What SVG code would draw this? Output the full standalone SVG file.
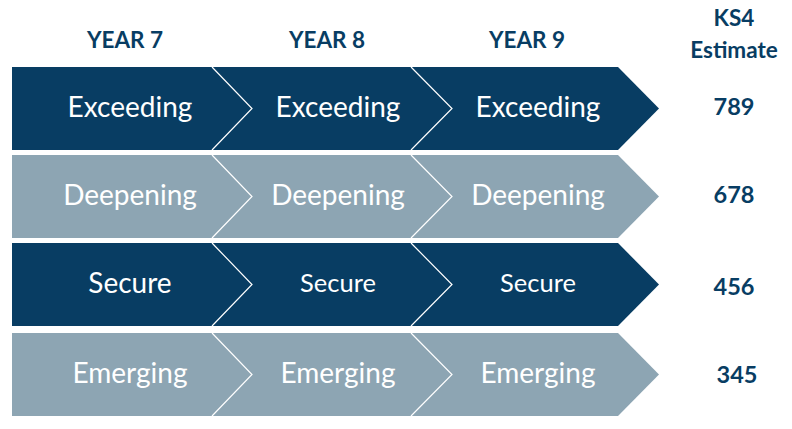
<svg xmlns="http://www.w3.org/2000/svg" width="792" height="429" viewBox="0 0 792 429">
<style>
.dark{fill:#083d63}
.light{fill:#8da5b3}
.sep{fill:none;stroke:#ffffff;stroke-width:1.2}
.lbl{font-family:Lato,"Liberation Sans",sans-serif;fill:#ffffff;text-anchor:middle;dominant-baseline:central;font-size:28px}
.sm{font-size:25.5px}
.hd{font-family:Lato,"Liberation Sans",sans-serif;fill:#083d63;font-weight:bold;text-anchor:middle;font-size:22.5px}
.num{font-size:23.5px}
</style>
<rect width="792" height="429" fill="#ffffff"/>
<g id="headers">
<text class="hd" x="125" y="48">YEAR 7</text>
<text class="hd" x="327" y="48">YEAR 8</text>
<text class="hd" x="527" y="48">YEAR 9</text>
<text class="hd" x="734" y="26">KS4</text>
<text class="hd" x="734" y="58">Estimate</text>
</g>
<g id="row-exceeding">
<polygon class="dark" points="12,67 618,67 659,108.5 618,150 12,150"/>
<text class="lbl" x="130" y="106">Exceeding</text>
<text class="lbl" x="338" y="106">Exceeding</text>
<text class="lbl" x="538" y="106">Exceeding</text>
<text class="hd num" x="734" y="115">789</text>
</g>
<g id="row-deepening">
<polygon class="light" points="12,155 618,155 659,196.5 618,238 12,238"/>
<text class="lbl" x="130" y="194">Deepening</text>
<text class="lbl" x="338" y="194">Deepening</text>
<text class="lbl" x="538" y="194">Deepening</text>
<text class="hd num" x="734" y="203">678</text>
</g>
<g id="row-secure">
<polygon class="dark" points="12,243 618,243 659,284.5 618,326 12,326"/>
<text class="lbl" x="130" y="282">Secure</text>
<text class="lbl sm" x="338" y="282">Secure</text>
<text class="lbl sm" x="538" y="282">Secure</text>
<text class="hd num" x="734" y="295">456</text>
</g>
<g id="row-emerging">
<polygon class="light" points="12,333 618,333 659,374.5 618,416 12,416"/>
<text class="lbl" x="130" y="372">Emerging</text>
<text class="lbl" x="338" y="372">Emerging</text>
<text class="lbl" x="538" y="372">Emerging</text>
<text class="hd num" x="737" y="383">345</text>
</g>
<g id="connectors">
<polyline class="sep" points="212,67 252,108.5 212,150"/>
<polyline class="sep" points="411,67 452,108.5 411,150"/>
<polyline class="sep" points="212,155 252,196.5 212,238"/>
<polyline class="sep" points="411,155 452,196.5 411,238"/>
<polyline class="sep" points="212,243 252,284.5 212,326"/>
<polyline class="sep" points="411,243 452,284.5 411,326"/>
<polyline class="sep" points="212,333 252,374.5 212,416"/>
<polyline class="sep" points="411,333 452,374.5 411,416"/>
</g>
</svg>
